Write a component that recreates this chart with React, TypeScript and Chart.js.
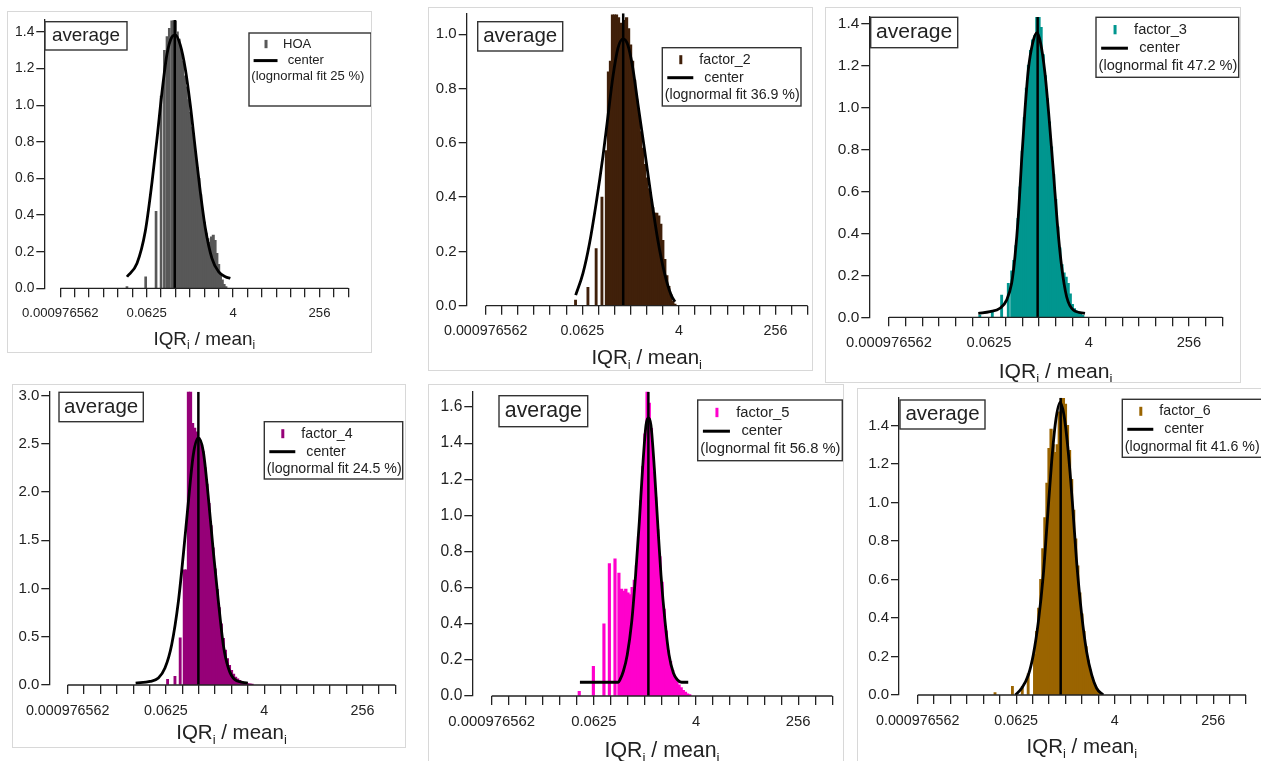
import React, { useEffect, useRef } from 'react';
import { Chart, registerables } from 'chart.js';

Chart.register(...registerables);

const FONT = '"Liberation Sans", Arial, Helvetica, sans-serif';
const INK = '#222222';
const FRAME = '#d8d8d8';

// The x axis is log2(IQR_i / mean_i); ticks sit on whole powers of two.
const xTickValues = [-10, -9, -8, -7, -6, -5, -4, -3, -2, -1, 0, 1, 2, 3, 4, 5, 6, 7, 8, 9, 10];
const xTickExps = [-10, -4, 2, 8];
const xTickLabels = ['0.000976562', '0.0625', '4', '256'];
const xAxisFrom = -10;
const xAxisTo = 10;

const yTicksTo10 = [0, 0.2, 0.4, 0.6, 0.8, 1.0];
const yTicksTo14 = [0, 0.2, 0.4, 0.6, 0.8, 1.0, 1.2, 1.4];
const yTicksTo16 = [0, 0.2, 0.4, 0.6, 0.8, 1.0, 1.2, 1.4, 1.6];
const yTicksTo30 = [0, 0.5, 1.0, 1.5, 2.0, 2.5, 3.0];

// ---- HOA ----
const hoaBinX = [-2.25, -2.125, -2.0, -1.875, -1.75, -1.625, -1.5, -1.375, -1.25, -1.125, -1.0, -0.875, -0.75, -0.625, -0.5, -0.375, -0.25, -0.125, 0.0, 0.125, 0.25, 0.375, 0.5, 0.625, 0.75, 0.875, 1.0, 1.125, 1.25, 1.375, 1.5];
const hoaBinY = [1.46, 1.46, 1.46, 1.40, 1.36, 1.30, 1.24, 1.16, 1.10, 1.03, 0.96, 0.88, 0.80, 0.73, 0.66, 0.60, 0.51, 0.43, 0.36, 0.30, 0.27, 0.25, 0.28, 0.29, 0.26, 0.19, 0.13, 0.08, 0.045, 0.02, 0.008];
const hoaStickX = [-5.37, -4.07, -3.35, -3.0, -2.77, -2.59, -2.43];
const hoaStickY = [0.01, 0.063, 0.42, 1.05, 1.30, 1.375, 1.42];
const hoaFitX = [-5.37, -4.67, -4.10, -3.63, -3.28, -2.94, -2.59, -2.24, -2.01, -1.67, -1.32, -0.97, -0.63, -0.28, 0.07, 0.53, 0.99, 1.46, 1.81];
const hoaFitY = [0.063, 0.137, 0.31, 0.58, 0.82, 1.07, 1.28, 1.375, 1.385, 1.33, 1.20, 1.00, 0.765, 0.53, 0.33, 0.164, 0.091, 0.063, 0.055];
const hoaCenter = -2.05;
const hoaFitPct = '25';

// ---- factor_2 ----
const f2BinX = [-2.5, -2.375, -2.25, -2.125, -2.0, -1.875, -1.75, -1.625, -1.5, -1.375, -1.25, -1.125, -1.0, -0.875, -0.75, -0.625, -0.5, -0.375, -0.25, -0.125, 0.0, 0.125, 0.25, 0.375, 0.5, 0.625, 0.75, 0.875, 1.0, 1.125, 1.25, 1.375, 1.5, 1.625, 1.75];
const f2BinY = [0.57, 0.86, 0.90, 1.07, 1.07, 1.07, 1.06, 1.04, 1.03, 1.05, 1.06, 1.02, 0.96, 0.90, 0.83, 0.76, 0.70, 0.64, 0.58, 0.52, 0.47, 0.43, 0.39, 0.36, 0.34, 0.34, 0.33, 0.30, 0.24, 0.17, 0.11, 0.07, 0.04, 0.015, 0.005];
const f2StickX = [-4.42, -3.65, -3.14, -2.78];
const f2StickY = [0.021, 0.068, 0.21, 0.40];
const f2FitX = [-4.41, -3.96, -3.55, -3.14, -2.72, -2.41, -2.10, -1.79, -1.47, -1.17, -0.86, -0.55, -0.13, 0.28, 0.69, 1.11, 1.52, 1.76];
const f2FitY = [0.039, 0.119, 0.23, 0.377, 0.549, 0.696, 0.843, 0.948, 0.983, 0.96, 0.874, 0.745, 0.573, 0.40, 0.242, 0.119, 0.039, 0.015];
const f2Center = -1.46;
const f2FitPct = '36.9';

// ---- factor_3 ----
const f3BinX = [-2.625, -2.5, -2.375, -2.25, -2.125, -2.0, -1.875, -1.75, -1.625, -1.5, -1.375, -1.25, -1.125, -1.0, -0.875, -0.75, -0.625, -0.5, -0.375, -0.25, -0.125, 0.0, 0.125, 0.25, 0.375, 0.5, 0.625, 0.75, 0.875, 1.0, 1.125, 1.25, 1.375, 1.5, 1.625];
const f3BinY = [0.22, 0.27, 0.34, 0.47, 0.62, 0.79, 0.95, 1.09, 1.20, 1.27, 1.32, 1.34, 1.43, 1.43, 1.38, 1.25, 1.15, 1.04, 0.93, 0.81, 0.68, 0.56, 0.43, 0.33, 0.25, 0.21, 0.19, 0.16, 0.11, 0.06, 0.04, 0.03, 0.02, 0.015, 0.008];
const f3StickX = [-4.55, -3.8, -3.24, -2.84];
const f3StickY = [0.01, 0.025, 0.106, 0.162];
const f3FitX = [-4.64, -3.94, -3.34, -2.94, -2.64, -2.44, -2.24, -2.04, -1.84, -1.64, -1.38, -1.12, -0.90, -0.64, -0.40, -0.14, 0.10, 0.36, 0.66, 1.06, 1.76];
const f3FitY = [0.019, 0.027, 0.043, 0.082, 0.162, 0.289, 0.479, 0.749, 0.987, 1.178, 1.305, 1.355, 1.305, 1.162, 0.955, 0.70, 0.448, 0.241, 0.098, 0.035, 0.019];
const f3Center = -1.08;
const f3FitPct = '47.2';

// ---- factor_4 ----
const f4BinX = [-2.875, -2.75, -2.625, -2.5, -2.375, -2.25, -2.125, -2.0, -1.875, -1.75, -1.625, -1.5, -1.375, -1.25, -1.125, -1.0, -0.875, -0.75, -0.625, -0.5, -0.375, -0.25, -0.125, 0.0, 0.125, 0.25, 0.375, 0.5, 0.625, 0.75, 0.875, 1.0, 1.125, 1.25];
const f4BinY = [1.19, 1.19, 3.04, 3.04, 2.71, 2.66, 2.62, 2.56, 2.50, 2.42, 2.25, 2.08, 1.88, 1.65, 1.42, 1.20, 0.99, 0.80, 0.63, 0.48, 0.36, 0.27, 0.20, 0.15, 0.11, 0.08, 0.06, 0.045, 0.03, 0.02, 0.015, 0.012, 0.01, 0.008];
const f4StickX = [-3.9, -3.45, -3.13];
const f4StickY = [0.06, 0.09, 0.49];
const f4FitX = [-5.85, -4.97, -4.46, -4.06, -3.65, -3.24, -2.94, -2.63, -2.33, -2.02, -1.72, -1.41, -1.11, -0.80, -0.50, -0.19, 0.21, 1.0];
const f4FitY = [0.02, 0.037, 0.073, 0.176, 0.418, 0.867, 1.35, 1.90, 2.387, 2.56, 2.42, 1.94, 1.385, 0.867, 0.418, 0.176, 0.055, 0.02];
const f4Center = -2.02;
const f4FitPct = '24.5';

// ---- factor_5 ----
const f5BinX = [-2.375, -2.25, -2.125, -2.0, -1.875, -1.75, -1.625, -1.5, -1.375, -1.25, -1.125, -1.0, -0.875, -0.75, -0.625, -0.5, -0.375, -0.25, -0.125, 0.0, 0.125, 0.25, 0.375, 0.5, 0.625, 0.75, 0.875, 1.0, 1.125, 1.25, 1.375, 1.5, 1.625];
const f5BinY = [0.59, 0.58, 0.59, 0.57, 0.56, 0.60, 0.64, 0.72, 0.88, 1.08, 1.27, 1.45, 1.69, 1.62, 1.48, 1.24, 1.10, 0.92, 0.77, 0.63, 0.48, 0.36, 0.25, 0.19, 0.14, 0.10, 0.08, 0.06, 0.045, 0.03, 0.02, 0.01, 0.006];
const f5StickX = [-4.86, -4.03, -3.41, -3.09, -2.76, -2.53];
const f5StickY = [0.026, 0.164, 0.40, 0.733, 0.76, 0.68];
const f5FitX = [-4.82, -3.70, -2.57, -2.47, -2.27, -2.04, -1.78, -1.55, -1.33, -1.14, -0.94, -0.80, -0.65, -0.45, -0.26, -0.06, 0.18, 0.41, 0.67, 0.90, 1.15, 1.54];
const f5FitY = [0.076, 0.076, 0.076, 0.09, 0.137, 0.229, 0.41, 0.67, 0.967, 1.26, 1.50, 1.54, 1.50, 1.26, 0.967, 0.67, 0.41, 0.229, 0.127, 0.09, 0.076, 0.076];
const f5Center = -0.80;
const f5FitPct = '56.8';

// ---- factor_6 ----
const f6BinX = [-2.875, -2.75, -2.625, -2.5, -2.375, -2.25, -2.125, -2.0, -1.875, -1.75, -1.625, -1.5, -1.375, -1.25, -1.125, -1.0, -0.875, -0.75, -0.625, -0.5, -0.375, -0.25, -0.125, 0.0, 0.125, 0.25, 0.375, 0.5, 0.625, 0.75, 0.875, 1.0, 1.125];
const f6BinY = [0.21, 0.33, 0.45, 0.60, 0.76, 0.92, 1.10, 1.28, 1.38, 1.30, 1.26, 1.30, 1.47, 1.54, 1.54, 1.51, 1.40, 1.27, 1.12, 0.96, 0.81, 0.67, 0.53, 0.42, 0.33, 0.25, 0.18, 0.13, 0.09, 0.06, 0.035, 0.02, 0.01];
const f6StickX = [-5.29, -4.23, -3.63, -3.27];
const f6StickY = [0.012, 0.045, 0.045, 0.11];
const f6FitX = [-4.05, -3.67, -3.26, -2.96, -2.65, -2.35, -2.11, -1.84, -1.60, -1.33, -1.09, -0.83, -0.58, -0.32, -0.01, 0.29, 0.60, 0.90, 1.30];
const f6FitY = [0.0, 0.035, 0.104, 0.208, 0.381, 0.624, 0.90, 1.213, 1.42, 1.52, 1.455, 1.265, 1.005, 0.693, 0.416, 0.225, 0.104, 0.035, 0.0];
const f6Center = -1.29;
const f6FitPct = '41.6';

type Rect = [number, number, number, number];

type PanelSpec = {
  key: string;
  name: string;
  color: string;
  fitPct: string;
  binX: number[];
  binY: number[];
  stickX: number[];
  stickY: number[];
  fitX: number[];
  fitY: number[];
  center: number;
  yTicks: number[];
  yMax: number;
  xMin: number;
  frame: { left: number; top: number; width: number; height: number };
  plot: { left: number; top: number; right: number; bottom: number };
  avgBox: Rect;
  legendBox: Rect;
  titleDy: number;
  s: number;
  stickW: number;
};

const panels: PanelSpec[] = [
  {
    key: 'hoa', name: 'HOA', color: '#585858', fitPct: hoaFitPct,
    binX: hoaBinX, binY: hoaBinY, stickX: hoaStickX, stickY: hoaStickY,
    fitX: hoaFitX, fitY: hoaFitY, center: hoaCenter,
    yTicks: yTicksTo14, yMax: 1.466, xMin: -11.11,
    frame: { left: 7, top: 11, width: 365, height: 342 },
    plot: { left: 37.3, top: 9, right: 341.3, bottom: 277.3 },
    avgBox: [38, 10.7, 82, 28.3], legendBox: [242, 22, 122, 73],
    titleDy: 49.7, s: 0.92, stickW: 2,
  },
  {
    key: 'f2', name: 'factor_2', color: '#40200a', fitPct: f2FitPct,
    binX: f2BinX, binY: f2BinY, stickX: f2StickX, stickY: f2StickY,
    fitX: f2FitX, fitY: f2FitY, center: f2Center,
    yTicks: yTicksTo10, yMax: 1.077, xMin: -11.18,
    frame: { left: 428, top: 7, width: 385, height: 364 },
    plot: { left: 38.7, top: 6.3, right: 379.7, bottom: 298.7 },
    avgBox: [49.7, 14.7, 85, 29.3], legendBox: [234.3, 40.7, 138.7, 58.3],
    titleDy: 51, s: 1.0, stickW: 2.2,
  },
  {
    key: 'f3', name: 'factor_3', color: '#00968f', fitPct: f3FitPct,
    binX: f3BinX, binY: f3BinY, stickX: f3StickX, stickY: f3StickY,
    fitX: f3FitX, fitY: f3FitY, center: f3Center,
    yTicks: yTicksTo14, yMax: 1.43, xMin: -11.18,
    frame: { left: 825, top: 7, width: 416, height: 376 },
    plot: { left: 44.3, top: 10, right: 397.3, bottom: 310.3 },
    avgBox: [45.7, 10.3, 87, 30.4], legendBox: [271, 10.3, 142.7, 60],
    titleDy: 52.7, s: 1.03, stickW: 2.2,
  },
  {
    key: 'f4', name: 'factor_4', color: '#960078', fitPct: f4FitPct,
    binX: f4BinX, binY: f4BinY, stickX: f4StickX, stickY: f4StickY,
    fitX: f4FitX, fitY: f4FitY, center: f4Center,
    yTicks: yTicksTo30, yMax: 3.04, xMin: -11.12,
    frame: { left: 12, top: 384, width: 394, height: 364 },
    plot: { left: 37.3, top: 7.7, right: 383.3, bottom: 301 },
    avgBox: [47, 8.3, 84.3, 29.4], legendBox: [252.3, 37.7, 138.4, 57.3],
    titleDy: 46.7, s: 1.0, stickW: 2.2,
  },
  {
    key: 'f5', name: 'factor_5', color: '#ff00cc', fitPct: f5FitPct,
    binX: f5BinX, binY: f5BinY, stickX: f5StickX, stickY: f5StickY,
    fitX: f5FitX, fitY: f5FitY, center: f5Center,
    yTicks: yTicksTo16, yMax: 1.685, xMin: -11.14,
    frame: { left: 428, top: 384, width: 416, height: 380 },
    plot: { left: 44.3, top: 7.7, right: 404.3, bottom: 312 },
    avgBox: [71, 11.7, 88.7, 31], legendBox: [269.7, 16, 144.6, 60.7],
    titleDy: 53.3, s: 1.04, stickW: 2.5,
  },
  {
    key: 'f6', name: 'factor_6', color: '#9a6400', fitPct: f6FitPct,
    binX: f6BinX, binY: f6BinY, stickX: f6StickX, stickY: f6StickY,
    fitX: f6FitX, fitY: f6FitY, center: f6Center,
    yTicks: yTicksTo14, yMax: 1.545, xMin: -11.14,
    frame: { left: 857, top: 388, width: 410, height: 380 },
    plot: { left: 42, top: 9.7, right: 389, bottom: 307 },
    avgBox: [43, 12, 85, 29], legendBox: [265.3, 11.3, 141, 58],
    titleDy: 51, s: 1.0, stickW: 2.2,
  },
];

// Igor-style decorations: detached x axis line, subscripted axis title,
// the "average" tag and the boxed legend.
const framePlugin = {
  id: 'igorFrame',
  afterDraw(chart: any, _args: any, opts: any) {
    const p: PanelSpec = opts.panel;
    const ctx: CanvasRenderingContext2D = chart.ctx;
    const xs = chart.scales.x;
    const ys = chart.scales.y;
    const s = p.s;
    const y0 = ys.getPixelForValue(0);
    ctx.save();

    ctx.strokeStyle = INK;
    ctx.lineWidth = 1.3;
    ctx.beginPath();
    ctx.moveTo(xs.getPixelForValue(xAxisFrom), y0);
    ctx.lineTo(xs.getPixelForValue(xAxisTo), y0);
    ctx.stroke();

    // axis title: IQR_i / mean_i
    const big = `${20.5 * s}px ${FONT}`;
    const small = `${13 * s}px ${FONT}`;
    const parts: [string, string, number][] = [
      ['IQR', big, 0],
      ['i', small, 5 * s],
      [' / mean', big, 0],
      ['i', small, 5 * s],
    ];
    let total = 0;
    for (const [t, f] of parts) {
      ctx.font = f;
      total += ctx.measureText(t).width;
    }
    let cx = xs.getPixelForValue((xAxisFrom + xAxisTo) / 2) - total / 2;
    const base = y0 + p.titleDy + 7.4 * s;
    ctx.fillStyle = INK;
    ctx.textAlign = 'left';
    ctx.textBaseline = 'alphabetic';
    for (const [t, f, dy] of parts) {
      ctx.font = f;
      ctx.fillText(t, cx, base + dy);
      cx += ctx.measureText(t).width;
    }

    // "average" tag
    const [ax, ay, aw, ah] = p.avgBox;
    ctx.fillStyle = '#ffffff';
    ctx.fillRect(ax, ay, aw, ah);
    ctx.strokeStyle = '#333333';
    ctx.lineWidth = 1.4;
    ctx.strokeRect(ax, ay, aw, ah);
    ctx.fillStyle = INK;
    ctx.font = `${20.5 * s}px ${FONT}`;
    ctx.textAlign = 'center';
    ctx.textBaseline = 'middle';
    ctx.fillText('average', ax + aw / 2, ay + ah / 2);

    // legend box
    const [lx, ly, lw, lh] = p.legendBox;
    ctx.fillStyle = '#ffffff';
    ctx.fillRect(lx, ly, lw, lh);
    ctx.strokeStyle = '#333333';
    ctx.lineWidth = 1.4;
    ctx.strokeRect(lx, ly, lw, lh);

    const r1 = ly + 12 * s;
    const r2 = ly + 30 * s;
    const r3 = ly + 47.5 * s;
    ctx.fillStyle = p.color;
    ctx.fillRect(lx + 18.5 * s - 1.5, r1 - 4.5 * s, 3, 9 * s);
    ctx.strokeStyle = '#000000';
    ctx.lineWidth = 3;
    ctx.beginPath();
    ctx.moveTo(lx + 5 * s, r2);
    ctx.lineTo(lx + 31 * s, r2);
    ctx.stroke();

    ctx.fillStyle = INK;
    ctx.font = `${14.2 * s}px ${FONT}`;
    ctx.textAlign = 'left';
    ctx.textBaseline = 'middle';
    ctx.fillText(p.name, lx + 37 * s, r1);
    ctx.fillText('center', lx + 42 * s, r2);
    ctx.fillText(`(lognormal fit ${p.fitPct} %)`, lx + 2.5 * s, r3);

    ctx.restore();
  },
};

function HistPanel({ p }: { p: PanelSpec }) {
  const ref = useRef<HTMLCanvasElement>(null);

  useEffect(() => {
    const canvas = ref.current;
    if (!canvas) return;
    const { frame, plot } = p;
    const xTickFont = { family: FONT, size: 14.3 * p.s };
    const yTickFont = { family: FONT, size: 15 * p.s };

    const chart = new Chart(canvas, {
      type: 'bar',
      data: {
        datasets: [
          {
            type: 'line',
            data: p.fitX.map((x, i) => ({ x, y: p.fitY[i] })),
            borderColor: '#000000',
            borderWidth: 2.8,
            pointRadius: 0,
            cubicInterpolationMode: 'monotone',
            fill: false,
            order: 0,
            xAxisID: 'x',
            yAxisID: 'y',
          },
          {
            type: 'line',
            data: [
              { x: p.center, y: 0 },
              { x: p.center, y: p.yMax },
            ],
            borderColor: '#000000',
            borderWidth: 2.5,
            pointRadius: 0,
            fill: false,
            order: 1,
            xAxisID: 'x',
            yAxisID: 'y',
          },
          {
            type: 'bar',
            data: p.binX.map((x, i) => ({ x, y: p.binY[i] })),
            backgroundColor: p.color,
            borderWidth: 0,
            barPercentage: 1,
            categoryPercentage: 1,
            inflateAmount: 0.6,
            grouped: false,
            order: 2,
            xAxisID: 'x',
            yAxisID: 'y',
          },
          {
            type: 'bar',
            data: p.stickX.map((x, i) => ({ x, y: p.stickY[i] })),
            backgroundColor: p.color,
            borderWidth: 0,
            barThickness: p.stickW,
            grouped: false,
            order: 3,
            xAxisID: 'xs',
            yAxisID: 'y',
          },
        ] as any,
      },
      options: {
        responsive: false,
        animation: false,
        devicePixelRatio: 1,
        events: [],
        layout: {
          padding: { left: 0, top: plot.top, right: frame.width - plot.right, bottom: 0 },
        },
        plugins: {
          legend: { display: false },
          tooltip: { enabled: false },
          igorFrame: { panel: p },
        } as any,
        scales: {
          x: {
            type: 'linear',
            min: p.xMin,
            max: xAxisTo,
            offset: false,
            border: { display: false },
            grid: {
              offset: false,
              drawOnChartArea: false,
              drawTicks: true,
              tickLength: 9,
              color: INK,
              lineWidth: 1.3,
            },
            ticks: {
              autoSkip: false,
              maxRotation: 0,
              minRotation: 0,
              padding: 8,
              color: INK,
              font: xTickFont,
              callback: (v: any) => {
                const i = xTickExps.indexOf(Number(v));
                return i >= 0 ? xTickLabels[i] : '';
              },
            },
            afterBuildTicks: (sc: any) => {
              sc.ticks = xTickValues.map((v) => ({ value: v }));
            },
            afterFit: (sc: any) => {
              sc.height = frame.height - plot.bottom;
              sc.paddingLeft = 0;
              sc.paddingRight = 0;
            },
          },
          xs: {
            type: 'linear',
            display: false,
            min: p.xMin,
            max: xAxisTo,
            offset: false,
            grid: { offset: false },
          },
          y: {
            type: 'linear',
            min: 0,
            max: p.yMax,
            border: { display: true, color: INK, width: 1.3 },
            grid: {
              drawOnChartArea: false,
              drawTicks: true,
              tickLength: 8,
              color: INK,
              lineWidth: 1.3,
            },
            ticks: {
              padding: 2,
              color: INK,
              font: yTickFont,
              callback: (v: any) => Number(v).toFixed(1),
            },
            afterBuildTicks: (sc: any) => {
              sc.ticks = p.yTicks.map((v) => ({ value: v }));
            },
            afterFit: (sc: any) => {
              sc.width = plot.left;
              sc.paddingTop = 0;
              sc.paddingBottom = 0;
            },
          },
        } as any,
      },
      plugins: [framePlugin],
    });

    return () => chart.destroy();
  }, [p]);

  return (
    <canvas
      ref={ref}
      width={p.frame.width}
      height={p.frame.height}
      style={{
        position: 'absolute',
        left: p.frame.left,
        top: p.frame.top,
        width: p.frame.width,
        height: p.frame.height,
        outline: `1px solid ${FRAME}`,
        outlineOffset: -1,
      }}
    />
  );
}

export default function App() {
  return (
    <div
      style={{
        position: 'absolute',
        left: 0,
        top: 0,
        width: 1261,
        height: 761,
        overflow: 'hidden',
        background: '#ffffff',
      }}
    >
      {panels.map((p) => (
        <HistPanel key={p.key} p={p} />
      ))}
    </div>
  );
}
